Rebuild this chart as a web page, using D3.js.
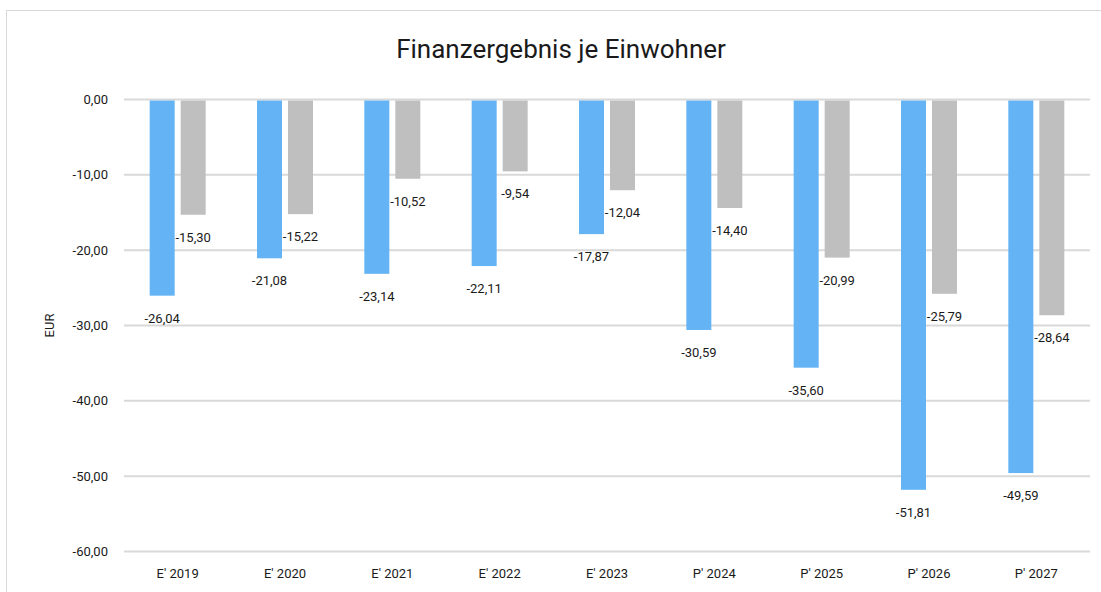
<!DOCTYPE html>
<html>
<head>
<meta charset="utf-8">
<script src="https://cdn.jsdelivr.net/npm/d3@7"></script>
<style>
  body { margin: 0; background: #fff; }
  svg text { font-family: Roboto, "Open Sans", sans-serif; fill: #1a1a1a; }
</style>
</head>
<body>
<div id="container"></div>
<script>
// chart data
var categories = ["E' 2019", "E' 2020", "E' 2021", "E' 2022", "E' 2023", "P' 2024", "P' 2025", "P' 2026", "P' 2027"];
var seriesA = [-26.04, -21.08, -23.14, -22.11, -17.87, -30.59, -35.60, -51.81, -49.59];
var seriesB = [-15.30, -15.22, -10.52, -9.54, -12.04, -14.40, -20.99, -25.79, -28.64];
var yTicks = [0, -10, -20, -30, -40, -50, -60];

var width = 1101, height = 592;
var margin = {left: 124, right: 11, top: 99.5, bottom: 40.5};

// german number format, plain hyphen as minus
var de = d3.formatLocale({decimal: ",", thousands: ".", grouping: [3], currency: ["", " €"], minus: "-"});
var fmt = de.format(".2f");

var svg = d3.select("#container")
  .append("svg")
  .attr("width", width)
  .attr("height", height);

// chart frame
svg.append("rect")
  .attr("x", 6.5).attr("y", 10.5)
  .attr("width", 1100).attr("height", 600)
  .attr("fill", "none")
  .attr("stroke", "#d9d9d9");

var x = d3.scaleBand()
  .domain(categories)
  .range([margin.left, width - margin.right]);

var y = d3.scaleLinear()
  .domain([0, -60])
  .range([margin.top, height - margin.bottom]);

var barW = 25, gap = 6;

// gridlines
svg.append("g")
  .selectAll("line").data(yTicks)
  .enter().append("line")
  .attr("x1", margin.left).attr("x2", width - margin.right)
  .attr("y1", function(d) { return y(d); })
  .attr("y2", function(d) { return y(d); })
  .attr("stroke", "#d9d9d9")
  .attr("stroke-width", 2);

// y axis labels
svg.append("g")
  .selectAll("text").data(yTicks)
  .enter().append("text")
  .attr("x", 108)
  .attr("y", function(d) { return y(d); })
  .attr("dy", "0.35em")
  .attr("text-anchor", "end")
  .style("font-size", "13px")
  .text(function(d) { return fmt(d); });

// x axis labels
svg.append("g")
  .selectAll("text").data(categories)
  .enter().append("text")
  .attr("x", function(d) { return x(d) + x.bandwidth() / 2; })
  .attr("y", 578)
  .attr("text-anchor", "middle")
  .style("font-size", "13px")
  .text(function(d) { return d; });

var series = [
  {name: "A", values: seriesA, color: "#63b3f5", off: -(barW + gap) / 2},
  {name: "B", values: seriesB, color: "#bfbfbf", off: (barW + gap) / 2}
];

series.forEach(function(s) {
  var g = svg.append("g");
  g.selectAll("rect").data(s.values)
    .enter().append("rect")
    .attr("x", function(d, i) { return x(categories[i]) + x.bandwidth() / 2 + s.off - barW / 2; })
    .attr("y", y(0) + 1)
    .attr("width", barW)
    .attr("height", function(d) { return y(d) - y(0) - 1; })
    .attr("fill", s.color);
});

series.forEach(function(s) {
  svg.append("g").selectAll("text").data(s.values)
    .enter().append("text")
    .attr("x", function(d, i) { return x(categories[i]) + x.bandwidth() / 2 + s.off; })
    .attr("y", function(d) { return y(d) + 27; })
    .attr("text-anchor", "middle")
    .style("font-size", "13px")
    .text(function(d) { return fmt(d); });
});

// y axis title
svg.append("text")
  .attr("transform", "translate(54," + (y(-30)) + ") rotate(-90)")
  .attr("text-anchor", "middle")
  .style("font-size", "13px")
  .text("EUR");

// title
svg.append("text")
  .attr("x", 561)
  .attr("y", 58)
  .attr("text-anchor", "middle")
  .style("font-size", "26px")
  .text("Finanzergebnis je Einwohner");
</script>
</body>
</html>
